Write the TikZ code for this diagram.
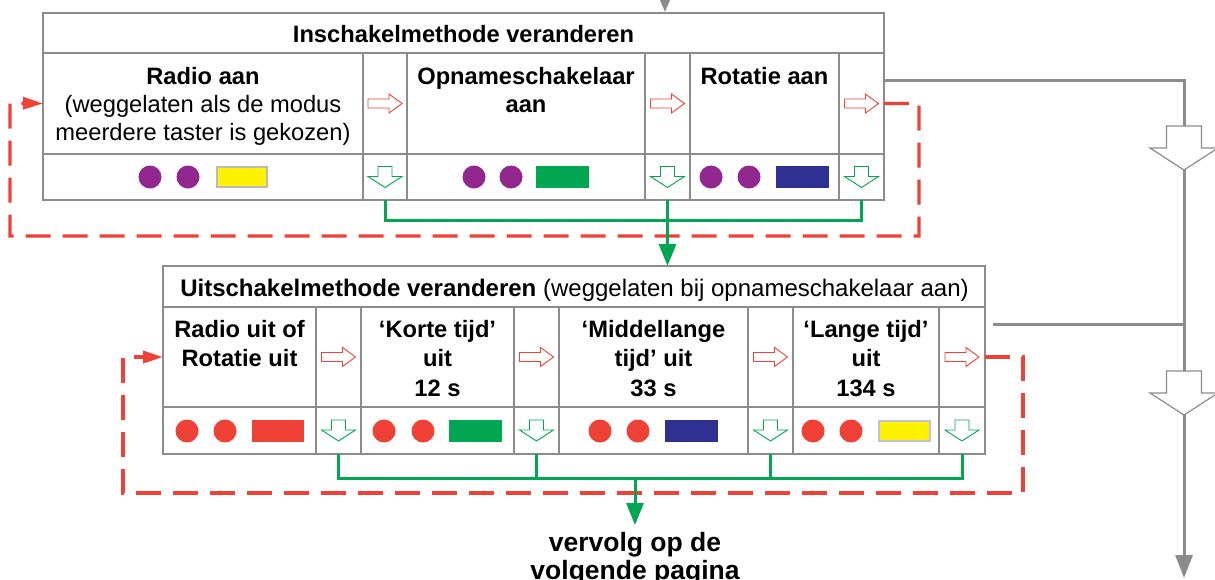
\documentclass[tikz,border=0pt]{standalone}
\usepackage{fontspec}
\setmainfont{Liberation Sans}
\usetikzlibrary{arrows.meta,calc}
\definecolor{bgray}{HTML}{8C8C8C}
\definecolor{fred}{HTML}{EF4136}
\definecolor{fgreen}{HTML}{00A651}
\definecolor{fpurple}{HTML}{92278F}
\definecolor{fnavy}{HTML}{2E3192}
\definecolor{fyellow}{HTML}{FFF200}
\newcommand\boxfont{\fontsize{23.7}{28}\selectfont}
\newcommand\lowfont{\fontsize{23.7}{29.5}\selectfont}
\begin{document}
\begin{tikzpicture}[x=1pt,y=-1pt,
  cellbox/.style={draw=bgray, line width=1.3pt, inner sep=0pt, outer sep=0pt, anchor=north west},
  outerbox/.style={draw=bgray, line width=2.7pt, inner sep=0pt, outer sep=0pt, anchor=north west},
  celltext/.style={inner sep=0pt, anchor=north, align=center},
  grayline/.style={draw=bgray, line width=3pt},
  gline/.style={draw=fgreen, line width=3pt},
  reddash/.style={draw=fred, line width=3.3pt, dash pattern=on 25pt off 12pt},
  dot/.style={circle, fill=#1, minimum size=23pt, inner sep=0pt},
  rarr/.pic={\draw[fred, line width=0.9pt, fill=white, line join=miter]
     (-17,-4.5) -- (4,-4.5) -- (4,-9.5) -- (17,0) -- (4,9.5) -- (4,4.5) -- (-17,4.5) -- cycle;},
  darr/.pic={\draw[fgreen, line width=0.9pt, fill=white, line join=miter]
     (-7,-10.5) -- (7,-10.5) -- (7,-0.5) -- (17,-0.5) -- (0,10.5) -- (-17,-0.5) -- (-7,-0.5) -- cycle;},
  bigarr/.pic={\draw[bgray, line width=1.2pt, fill=white, line join=miter]
     (-17.5,0) -- (17.5,0) -- (17.5,22) -- (34,22) -- (0,44) -- (-34,22) -- (-17.5,22) -- cycle;}
]
\useasboundingbox (0,0) rectangle (1215,579);
\fill[white] (0,0) rectangle (1215,579);

% ---------- top box ----------
\node[cellbox, minimum width=841pt, minimum height=40pt] (tT) at (43,13) {};
\node[cellbox, minimum width=320pt, minimum height=101pt] (tm1) at (43,53) {};
\node[cellbox, minimum width=44pt,  minimum height=101pt] (tm2) at (363,53) {};
\node[cellbox, minimum width=238pt, minimum height=101pt] (tm3) at (407,53) {};
\node[cellbox, minimum width=45pt,  minimum height=101pt] (tm4) at (645,53) {};
\node[cellbox, minimum width=149pt, minimum height=101pt] (tm5) at (690,53) {};
\node[cellbox, minimum width=45pt,  minimum height=101pt] (tm6) at (839,53) {};
\node[cellbox, minimum width=320pt, minimum height=46pt] (tb1) at (43,154) {};
\node[cellbox, minimum width=44pt,  minimum height=46pt] (tb2) at (363,154) {};
\node[cellbox, minimum width=238pt, minimum height=46pt] (tb3) at (407,154) {};
\node[cellbox, minimum width=45pt,  minimum height=46pt] (tb4) at (645,154) {};
\node[cellbox, minimum width=149pt, minimum height=46pt] (tb5) at (690,154) {};
\node[cellbox, minimum width=45pt,  minimum height=46pt] (tb6) at (839,154) {};
\node[outerbox, minimum width=841pt, minimum height=187pt] (top) at (43,13) {};

\node[inner sep=0pt, anchor=base, font=\boxfont\bfseries] (tTitle) at (463.5,42) {Inschakelmethode veranderen};
\node[celltext, font=\boxfont] (tx1) at ($(tm1.north)+(0,14)$) {\textbf{Radio aan}\\(weggelaten als de modus\\meerdere taster is gekozen)};
\node[celltext, font=\boxfont\bfseries] (tx3) at ($(tm3.north)+(0,14)$) {Opnameschakelaar\\aan};
\node[celltext, font=\boxfont\bfseries] (tx5) at ($(tm5.north)+(0,14)$) {Rotatie aan};

\pic at (tm2) {rarr};
\pic at (tm4) {rarr};
\pic at (tm6) {rarr};
\pic at (tb2) {darr};
\pic at (tb4) {darr};
\pic at (tb6) {darr};

\node[dot=fpurple] (p1) at (150,177) {};
\node[dot=fpurple] (p2) at (188,177) {};
\filldraw[fill=fyellow, draw=bgray!60, line width=1.5pt] (217,167) rectangle (267,187);
\node[dot=fpurple] (p3) at (474,177) {};
\node[dot=fpurple] (p4) at (511,177) {};
\fill[fgreen] (536,166) rectangle (589,188);
\node[dot=fpurple] (p5) at (711,177) {};
\node[dot=fpurple] (p6) at (749,177) {};
\fill[fnavy] (776,166) rectangle (829,188);

% ---------- lower box ----------
\node[cellbox, minimum width=822pt, minimum height=41pt] (lT) at (163,266) {};
\node[cellbox, minimum width=153pt, minimum height=100pt] (lm1) at (163,307) {};
\node[cellbox, minimum width=45pt,  minimum height=100pt] (lm2) at (316,307) {};
\node[cellbox, minimum width=153pt, minimum height=100pt] (lm3) at (361,307) {};
\node[cellbox, minimum width=45pt,  minimum height=100pt] (lm4) at (514,307) {};
\node[cellbox, minimum width=189pt, minimum height=100pt] (lm5) at (559,307) {};
\node[cellbox, minimum width=45pt,  minimum height=100pt] (lm6) at (748,307) {};
\node[cellbox, minimum width=146pt, minimum height=100pt] (lm7) at (793,307) {};
\node[cellbox, minimum width=46pt,  minimum height=100pt] (lm8) at (939,307) {};
\node[cellbox, minimum width=153pt, minimum height=47pt] (lb1) at (163,407) {};
\node[cellbox, minimum width=45pt,  minimum height=47pt] (lb2) at (316,407) {};
\node[cellbox, minimum width=153pt, minimum height=47pt] (lb3) at (361,407) {};
\node[cellbox, minimum width=45pt,  minimum height=47pt] (lb4) at (514,407) {};
\node[cellbox, minimum width=189pt, minimum height=47pt] (lb5) at (559,407) {};
\node[cellbox, minimum width=45pt,  minimum height=47pt] (lb6) at (748,407) {};
\node[cellbox, minimum width=146pt, minimum height=47pt] (lb7) at (793,407) {};
\node[cellbox, minimum width=46pt,  minimum height=47pt] (lb8) at (939,407) {};
\node[outerbox, minimum width=822pt, minimum height=188pt] (bot) at (163,266) {};

\node[inner sep=0pt, anchor=base, font=\fontsize{24}{28}\selectfont] (lTitle) at (574.5,296) {\textbf{Uitschakelmethode veranderen} (weggelaten bij opnameschakelaar aan)};
\node[celltext, font=\lowfont\bfseries] (lx1) at ($(lm1.north)+(0,13)$) {Radio uit of\\Rotatie uit};
\node[celltext, font=\lowfont\bfseries] (lx3) at ($(lm3.north)+(0,13)$) {‘Korte tijd’\\uit\\12 s};
\node[celltext, font=\lowfont\bfseries] (lx5) at ($(lm5.north)+(0,13)$) {‘Middellange\\tijd’ uit\\33 s};
\node[celltext, font=\lowfont\bfseries] (lx7) at ($(lm7.north)+(0,13)$) {‘Lange tijd’\\uit\\134 s};

\pic at (lm2) {rarr};
\pic at (lm4) {rarr};
\pic at (lm6) {rarr};
\pic at (lm8) {rarr};
\pic at (lb2) {darr};
\pic at (lb4) {darr};
\pic at (lb6) {darr};
\pic at (lb8) {darr};

\node[dot=fred] (r1) at (187,431) {};
\node[dot=fred] (r2) at (225,431) {};
\fill[fred] (252,420) rectangle (304,442);
\node[dot=fred] (r3) at (384,431) {};
\node[dot=fred] (r4) at (423,431) {};
\fill[fgreen] (449,420) rectangle (502,442);
\node[dot=fred] (r5) at (600,431) {};
\node[dot=fred] (r6) at (638,431) {};
\fill[fnavy] (665,420) rectangle (718,442);
\node[dot=fred] (r7) at (813,431) {};
\node[dot=fred] (r8) at (851,431) {};
\filldraw[fill=fyellow, draw=fnavy!30, line width=1.5pt] (879,421) rectangle (930,441);

% ---------- connectors ----------
\coordinate (topin) at (665,-20);
\draw[grayline, -{Triangle[length=20pt,width=16pt]}] (topin) -- (665,12);

% top red loop
\coordinate (rt1) at (919,236);
\coordinate (rt2) at (10,103);
\draw[reddash, -{Triangle[length=20pt,width=12pt]}] (tm6.east) -| (rt1) -| (rt2) -- (tm1.west);
% lower red loop
\coordinate (rl1) at (1023,493);
\coordinate (rl2) at (123,357);
\draw[reddash, -{Triangle[length=20pt,width=12pt]}] (lm8.east) -| (rl1) -| (rl2) -- (lm1.west);

% green top
\draw[gline] (tb2.south) -- ++(0,20) -| (tb6.south);
\draw[gline, -{Triangle[length=22pt,width=17pt]}] (tb4.south) -- (tb4.south |- bot.north);
% green lower
\draw[gline] (lb2.south) -- ++(0,24) -| (lb8.south);
\draw[gline] (lb4.south) -- ++(0,24);
\draw[gline] (lb6.south) -- ++(0,24);
\node[inner xsep=0pt, inner ysep=7pt, anchor=north, align=center, font=\fontsize{26.5}{28}\selectfont\bfseries] (next) at (635,525) {vervolg op de\\volgende pagina};
\coordinate (gjoin) at (635,478);
\draw[gline, -{Triangle[length=22pt,width=17pt]}] (gjoin) -- (next.north);

% gray right side
\coordinate (gA) at (884,80);
\coordinate (gB) at (993,324);
\coordinate (big1) at (1184,126);
\coordinate (big1tip) at (1184,170);
\coordinate (big2) at (1184,371);
\coordinate (big2tip) at (1184,415);
\coordinate (gEnd) at (1184,578);
\draw[grayline] (gA) -| (big1);
\draw[grayline] (big1tip) -- (big2);
\draw[grayline] (gB) -- (gB -| big2);
\draw[grayline, -{Triangle[length=23pt,width=17pt]}] (big2tip) -- (gEnd);
\pic at (big1) {bigarr};
\pic at (big2) {bigarr};
\end{tikzpicture}
\end{document}
